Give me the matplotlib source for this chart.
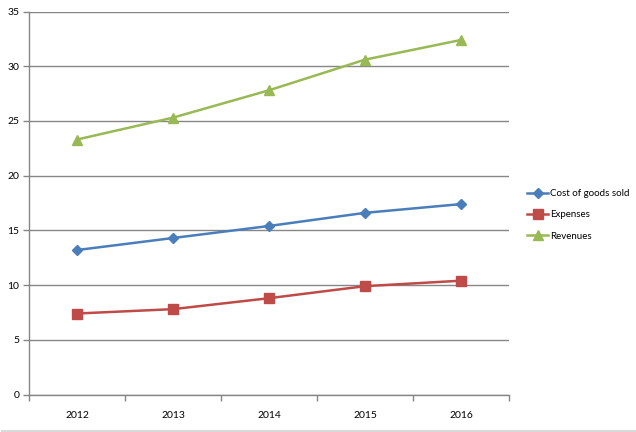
import matplotlib
matplotlib.use("Agg")
import matplotlib.pyplot as plt
from matplotlib.lines import Line2D

years = ["2012", "2013", "2014", "2015", "2016"]
cost = [13.2, 14.3, 15.4, 16.6, 17.4]
expenses = [7.4, 7.8, 8.8, 9.9, 10.4]
revenues = [23.3, 25.3, 27.8, 30.6, 32.4]
yticks = [0, 5, 10, 15, 20, 25, 30, 35]

plt.rcParams['font.family'] = ['Lato', 'DejaVu Sans']

fig = plt.figure(figsize=(6.36, 4.32), dpi=100)
ax = fig.add_axes([29/636, 1-394.5/432, 480/636, 383/432])

x = list(range(len(years)))
ax.plot(x, cost, color="#4A7EBB", marker="D", markersize=5, linewidth=1.8, label="Cost of goods sold")
ax.plot(x, expenses, color="#BE4B48", marker="s", markersize=7, linewidth=1.8, label="Expenses")
ax.plot(x, revenues, color="#98B954", marker="^", markersize=7, linewidth=1.8, label="Revenues")

ax.set_xlim(-0.5, len(years)-0.5)
ax.set_ylim(0, 35)
ax.set_yticks(yticks)
ax.set_yticklabels([str(v) for v in yticks], fontsize=7.5)
ax.set_xticks([i - 0.5 for i in range(len(years)+1)])
ax.set_xticklabels([])
ax.set_xticks(x, minor=True)
ax.set_xticklabels(years, minor=True, fontsize=7.5)
ax.tick_params(axis='x', which='major', direction='out', length=4, color="#868686", width=1)
ax.tick_params(axis='x', which='minor', length=0, pad=12)
ax.tick_params(axis='y', direction='out', length=4, color="#868686", width=1, pad=3)
ax.grid(axis='y', color="#868686", linewidth=1)
ax.set_axisbelow(True)
for s in ['top', 'right']:
    ax.spines[s].set_visible(False)
for s in ['left', 'bottom']:
    ax.spines[s].set_color("#868686")
    ax.spines[s].set_linewidth(1)

leg = fig.legend(loc='center left', bbox_to_anchor=(525/636, 1-215/432), frameon=False,
                 fontsize=7, handlelength=2.2, handletextpad=0.15, labelspacing=1.25,
                 borderaxespad=0, borderpad=0.2)

fig.add_artist(Line2D([0.003, 1], [1.5/432, 1.5/432], transform=fig.transFigure,
                      color="#D9D9D9", linewidth=1.5))
fig.savefig("out.png", dpi=100)
